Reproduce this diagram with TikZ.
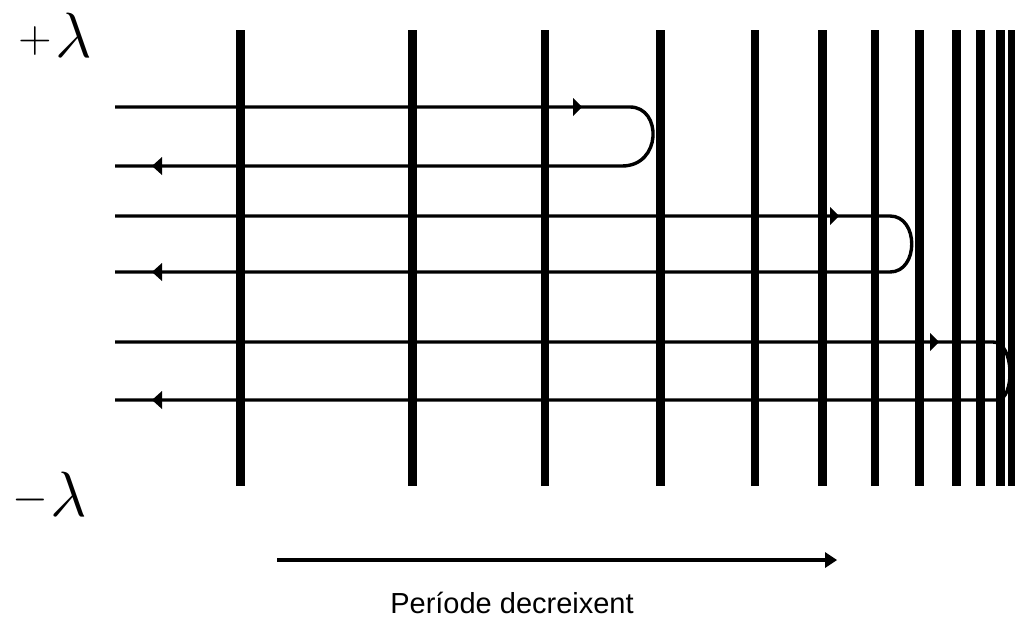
\RequirePackage{fix-cm}
\documentclass[tikz,border=0pt]{standalone}
\usepackage{fontspec}
\newfontfamily\capfont{Liberation Sans}
\begin{document}
\begin{tikzpicture}[x=1pt,y=-1pt,
  bar/.style={line width=8.5pt},
  ray/.style={line width=3.4pt,line join=round},
  head/.style={fill=black},
  sym/.style={inner sep=0pt,outer sep=0pt}]
\useasboundingbox (0,0) rectangle (1015,635);
\fill[white] (0,0) rectangle (1015,635);
% vertical grating lines
\foreach \x in {240.7,412.7,545,660.7,755,822.7,875,919.3,956.7,980.7,1000.7,1012}
  \draw[bar] (\x,30) -- (\x,486);
% reflected rays
\draw[ray] (115,107) -- (630,107) .. controls (662,107) and (662,166) .. (622,166) -- (115,166);
\draw[ray] (115,216) -- (890,216) .. controls (919,216) and (919,272) .. (890,272) -- (115,272);
\draw[ray] (115,342) -- (993,342) .. controls (1015,342) and (1015,400) .. (997,400) -- (115,400);
% arrowheads
\fill[head] (582,107) -- (573,98) -- (573,116) -- cycle;
\fill[head] (839,216) -- (830,207) -- (830,225) -- cycle;
\fill[head] (939,342) -- (930,333) -- (930,351) -- cycle;
\fill[head] (152,166) -- (162,157) -- (162,175) -- cycle;
\fill[head] (152,272) -- (162,263) -- (162,281) -- cycle;
\fill[head] (152,400) -- (162,391) -- (162,409) -- cycle;
% labels
\node[sym] (plus) at (35,41) {\fontsize{46}{46}\selectfont$+$};
\node[sym,anchor=south west] (lamtop) at (55,57) {\fontsize{64}{64}\selectfont$\lambda$};
\node[sym] (minus) at (30,500) {\fontsize{46}{46}\selectfont$-$};
\node[sym,anchor=south west] (lambot) at (50,516) {\fontsize{64}{64}\selectfont$\lambda$};
% period arrow
\coordinate (pa) at (277,560);
\coordinate (pb) at (826,560);
\draw[ray] (pa) -- (pb);
\fill[head] (837,560) -- (825,552) -- (825,568) -- cycle;
\node (cap) at (512,603) {\capfont\fontsize{29}{31}\selectfont Període decreixent};
\end{tikzpicture}
\end{document}
